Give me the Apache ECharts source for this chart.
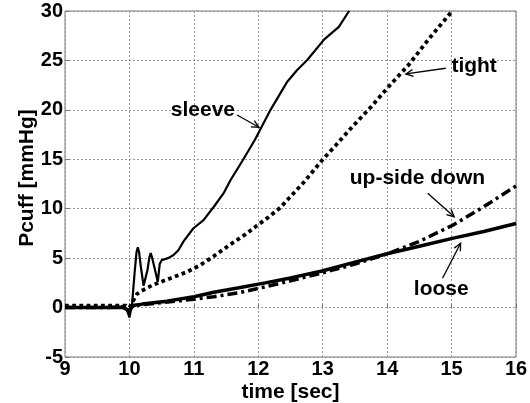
<!DOCTYPE html>
<html>
<head>
<meta charset="utf-8">
<script src="https://cdn.jsdelivr.net/npm/echarts@6/dist/echarts.min.js"></script>
<style>
html, body { margin: 0; padding: 0; background: #fff; }
#chart { width: 530px; height: 403px; }
</style>
</head>
<body>
<div id="chart"></div>
<script>
// time [sec] / Pcuff [mmHg]
var sleeveT = [9, 9.5, 9.9, 9.96, 10.0, 10.04, 10.08, 10.11, 10.13, 10.15, 10.18, 10.22, 10.28, 10.31, 10.33, 10.35, 10.39, 10.44, 10.47, 10.5, 10.6, 10.68, 10.76, 10.84, 10.99, 11.15, 11.31, 11.46, 11.57, 11.75, 11.95, 12.19, 12.45, 12.6, 12.76, 13.02, 13.25, 13.41];
var sleeveP = [0, 0, 0.1, -0.2, -1.0, 0.3, 3.5, 5.6, 6.1, 5.6, 4.0, 2.2, 3.8, 5.1, 5.5, 5.1, 4.0, 2.6, 4.4, 4.8, 5.0, 5.3, 5.8, 6.7, 8.0, 8.85, 10.2, 11.55, 12.9, 14.8, 17.0, 20.0, 22.85, 24.0, 25.05, 27.1, 28.4, 30];

var tightT = [9, 9.5, 9.95, 10.0, 10.06, 10.12, 10.19, 10.37, 10.63, 10.89, 11.1, 11.31, 11.57, 11.8, 11.98, 12.15, 12.34, 12.71, 12.99, 13.2, 13.46, 13.75, 14.03, 14.34, 14.65, 15.01];
var tightP = [0.2, 0.2, 0.2, 0.0, 0.7, 1.4, 1.7, 2.3, 2.95, 3.6, 4.3, 5.2, 6.4, 7.4, 8.3, 9.1, 10.1, 12.7, 14.9, 16.4, 18.3, 20.3, 22.4, 24.6, 27.2, 30];

var upsideT = [9, 9.5, 9.9, 10.0, 10.05, 10.2, 10.5, 10.8, 11.0, 11.31, 11.7, 12.11, 12.5, 12.99, 13.5, 14.03, 14.5, 15.01, 15.5, 16];
var upsideP = [0, 0, 0.05, -0.4, 0.2, 0.3, 0.5, 0.7, 0.85, 1.1, 1.5, 2.1, 2.7, 3.5, 4.4, 5.5, 6.7, 8.3, 10.2, 12.3];

var looseT = [9, 9.5, 9.9, 10.0, 10.05, 10.2, 10.58, 11.0, 11.31, 11.7, 12.11, 12.5, 12.99, 13.5, 14.03, 14.5, 15.01, 15.5, 16];
var looseP = [0, 0, 0, -0.3, 0.2, 0.35, 0.65, 1.1, 1.55, 2.0, 2.5, 3.0, 3.7, 4.6, 5.5, 6.2, 7.0, 7.7, 8.5];

// annotation text position and arrow (from -> to), data coords
var notes = [
    { text: 'sleeve', at: [11.14, 20.0], from: [11.67, 19.48], to: [12.01, 18.24] },
    { text: 'tight', at: [15.35, 24.37], from: [14.91, 24.21], to: [14.29, 23.63] },
    { text: 'up-side down', at: [14.47, 13.08], from: [14.63, 11.56], to: [15.04, 9.19] },
    { text: 'loose', at: [14.84, 1.84], from: [14.86, 2.96], to: [15.14, 6.5] }
];

function pairs(t, p) {
    var out = [];
    for (var i = 0; i < t.length; i++) out.push([t[i], p[i]]);
    return out;
}

var font = '"Liberation Sans", Arial, sans-serif';
var myChart = echarts.init(document.getElementById('chart'));

var option = {
    animation: false,
    grid: {
        left: 65, right: 14, top: 11, bottom: 46,
        outerBoundsMode: 'none',
        show: true, borderColor: '#777', borderWidth: 1
    },
    xAxis: {
        type: 'value', min: 9, max: 16, interval: 1,
        name: 'time [sec]', nameLocation: 'middle', nameGap: 25, nameMoveOverlap: false,
        nameTextStyle: { fontFamily: font, fontWeight: 'bold', fontSize: 21, color: '#000' },
        axisLine: { show: false },
        axisTick: { show: true, inside: true, length: 4, lineStyle: { color: '#777' } },
        axisLabel: { fontFamily: font, fontWeight: 'bold', fontSize: 20, color: '#000', margin: 2 },
        splitLine: { show: true, lineStyle: { color: '#999', type: [2, 2], width: 1 } }
    },
    yAxis: {
        type: 'value', min: -5, max: 30, interval: 5,
        name: 'Pcuff [mmHg]', nameLocation: 'middle', nameGap: 27, nameMoveOverlap: false,
        nameTextStyle: { fontFamily: font, fontWeight: 'bold', fontSize: 21, color: '#000', padding: [0, 0, 0, 12] },
        axisLine: { show: false },
        axisTick: { show: true, inside: true, length: 4, lineStyle: { color: '#777' } },
        axisLabel: { fontFamily: font, fontWeight: 'bold', fontSize: 20, color: '#000', margin: 2 },
        splitLine: { show: true, lineStyle: { color: '#999', type: [2, 2], width: 1 } }
    },
    series: [
        {
            name: 'loose', type: 'line', showSymbol: false, clip: true,
            data: pairs(looseT, looseP),
            lineStyle: { color: '#000', width: 3.5, type: 'solid' }
        },
        {
            name: 'up-side down', type: 'line', showSymbol: false, clip: true,
            data: pairs(upsideT, upsideP),
            lineStyle: { color: '#000', width: 3.5, type: [10, 4, 3, 4] }
        },
        {
            name: 'tight', type: 'line', showSymbol: false, clip: true,
            data: pairs(tightT, tightP),
            lineStyle: { color: '#000', width: 3.8, type: [3.8, 3.4] }
        },
        {
            name: 'sleeve', type: 'line', showSymbol: false, clip: true,
            data: pairs(sleeveT, sleeveP),
            lineStyle: { color: '#000', width: 2.2, type: 'solid' }
        }
    ]
};
myChart.setOption(option);

// annotations placed through the chart's own scales
var graphics = [];
notes.forEach(function (n) {
    var c = myChart.convertToPixel({ gridIndex: 0 }, n.at);
    var a = myChart.convertToPixel({ gridIndex: 0 }, n.from);
    var b = myChart.convertToPixel({ gridIndex: 0 }, n.to);
    graphics.push({
        type: 'text', x: c[0], y: c[1],
        style: { text: n.text, fill: '#000', font: 'bold 21px ' + font, align: 'center', verticalAlign: 'middle' }
    });
    var ang = Math.atan2(b[1] - a[1], b[0] - a[0]);
    var L = 8, w = 0.45;
    var w1 = [b[0] - L * Math.cos(ang - w), b[1] - L * Math.sin(ang - w)];
    var w2 = [b[0] - L * Math.cos(ang + w), b[1] - L * Math.sin(ang + w)];
    graphics.push({
        type: 'line', shape: { x1: a[0], y1: a[1], x2: b[0], y2: b[1] },
        style: { stroke: '#000', lineWidth: 1.3 }
    });
    graphics.push({
        type: 'polyline', shape: { points: [w1, b, w2] },
        style: { stroke: '#000', lineWidth: 1.3, fill: null }
    });
});
myChart.setOption({ graphic: graphics });
</script>
</body>
</html>
